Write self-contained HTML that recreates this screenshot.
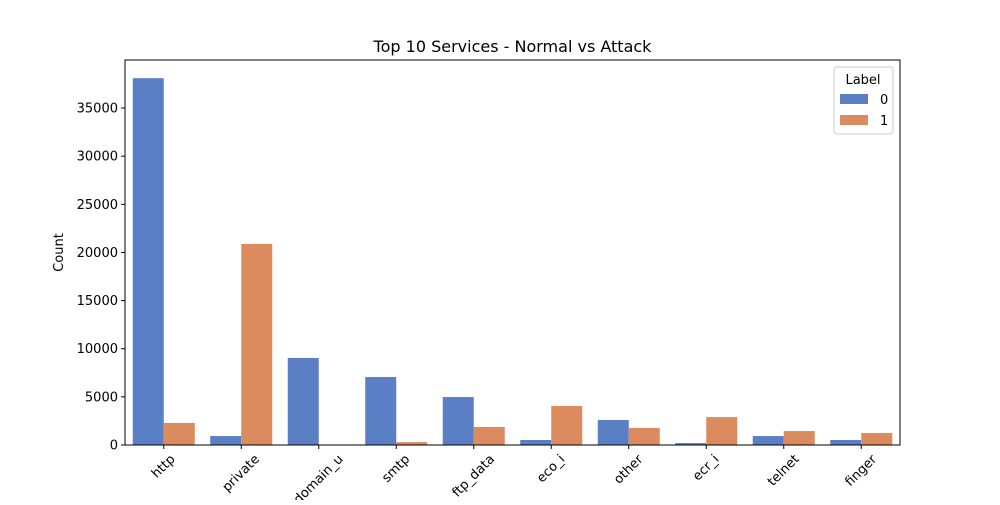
<!DOCTYPE html>
<html><head><meta charset="utf-8"><style>
body{margin:0;background:#fff;font-family:"Liberation Sans","DejaVu Sans",sans-serif;overflow:hidden;}
svg text{font-family:"DejaVu Sans","Liberation Sans",sans-serif;}
</style></head><body>
<svg id="chart" width="1000" height="500"></svg>
<script>
const categories=["http","private","domain_u","smtp","ftp_data","eco_i","other","ecr_i","telnet","finger"];
const normalCounts=[38100,930,9040,7060,4980,520,2600,200,930,520];
const attackCounts=[2290,20880,5,300,1870,4050,1770,2900,1450,1250];
const yTicks=[0,5000,10000,15000,20000,25000,30000,35000];
const seriesLabels=["0","1"];
const colors=["#5b7fc5","#db8b5d"];
const L=125,R=900,T=60,B=445,yMax=39990;
const ns="http://www.w3.org/2000/svg";
const svg=document.getElementById('chart');
function el(t,a,p){const e=document.createElementNS(ns,t);for(const k in a)e.setAttribute(k,a[k]);(p||svg).appendChild(e);return e;}
const y=v=>B-(v/yMax)*(B-T);
const band=(R-L)/categories.length;
const x=i=>L+band*i;
const bw=band*0.8/2;
const title=el('text',{x:(L+R)/2,y:52,'text-anchor':'middle','font-size':16});title.textContent="Top 10 Services - Normal vs Attack";


[normalCounts,attackCounts].forEach((arr,s)=>{
 arr.forEach((v,i)=>{
  const r=el('rect',{x:x(i)+band*0.1+s*bw,y:y(v),width:bw,height:B-y(v),fill:colors[s]});
  
  
 });
});
el('rect',{x:L,y:T,width:R-L,height:B-T,fill:'none',stroke:'#000','stroke-width':1});
yTicks.forEach(v=>{
 el('line',{x1:L-4,x2:L,y1:y(v),y2:y(v),stroke:'#000'});
 const t=el('text',{x:L-7,y:y(v)+4.5,'text-anchor':'end','font-size':13});t.textContent=v;
 
 
});
categories.forEach((c,i)=>{
 const cx=x(i)+band/2;
 el('line',{x1:cx,x2:cx,y1:B,y2:B+4,stroke:'#000'});
 const t=el('text',{x:0,y:0,'text-anchor':'middle','dominant-baseline':'central','font-size':13});t.textContent=c;
 
 
 const bb=t.getBBox();
 const half=(bb.width+bb.height)*0.7071/2;
 t.setAttribute('transform',`translate(${cx} ${B+7+half}) rotate(-45)`);
});
const yl=el('text',{x:63,y:(T+B)/2,'text-anchor':'middle','font-size':13,transform:`rotate(-90 63 ${(T+B)/2})`});yl.textContent="Count";


const g=el('g',{});


el('rect',{x:834,y:67,width:59,height:67,fill:'#fff',stroke:'#ccc',rx:3},g);
const lt=el('text',{x:863,y:84,'text-anchor':'middle','font-size':13},g);lt.textContent="Label";
seriesLabels.forEach((s,k)=>{
 el('rect',{x:840,y:94+k*21,width:28,height:10,fill:colors[k]},g);
 const t=el('text',{x:880,y:104+k*21,'font-size':13},g);t.textContent=s;
 
 
});
</script>
</body></html>
